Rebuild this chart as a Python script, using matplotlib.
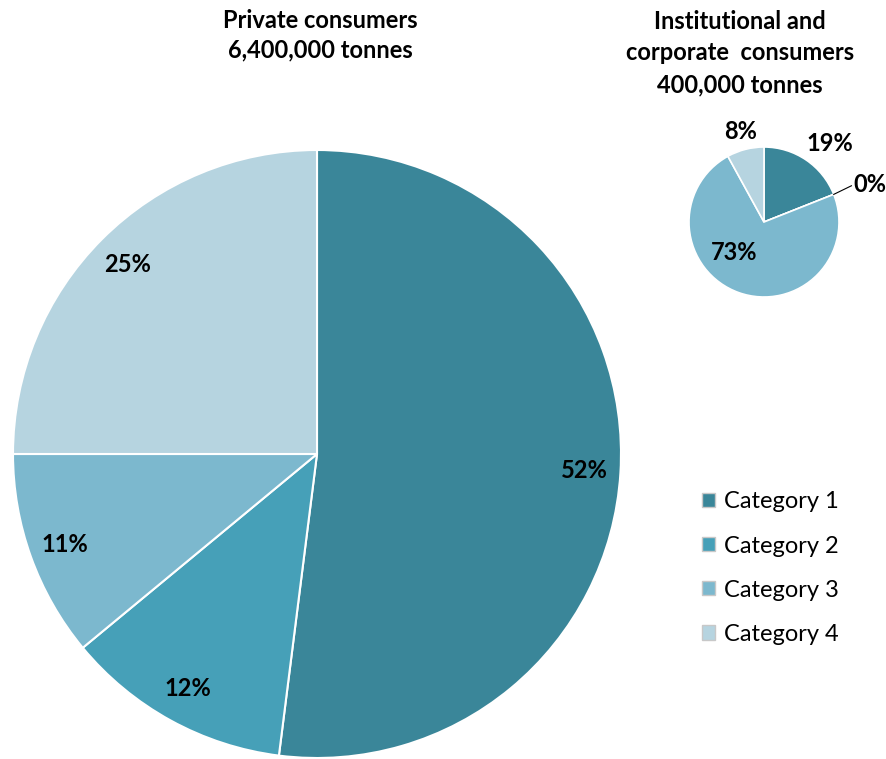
import matplotlib.pyplot as plt
import numpy as np
from matplotlib.patches import Patch

plt.rcParams['font.family'] = ['Lato', 'DejaVu Sans']

categories = ["Category 1", "Category 2", "Category 3", "Category 4"]
private_share = [52, 12, 11, 25]
institutional_share = [19, 0, 73, 8]
colors = ["#3a8699", "#46a0b8", "#7cb8ce", "#b6d4e0"]

private_title = "Private consumers\n6,400,000 tonnes"
inst_title = "Institutional and\ncorporate  consumers\n400,000 tonnes"

FS = 17

fig = plt.figure(figsize=(8.86, 7.59), dpi=100)

# big pie
ax1 = fig.add_axes([13/886, 1/759, 608/886, 608/759])
ax1.pie(private_share, colors=colors, startangle=90, counterclock=False,
        autopct="%d%%", pctdistance=0.88,
        wedgeprops=dict(edgecolor="white", linewidth=1.5),
        textprops=dict(fontsize=FS, fontweight="bold", color="black"))
ax1.set_xlim(-1, 1)
ax1.set_ylim(-1, 1)
ax1.set_aspect("equal")
fig.text(320/886, 1 - 35/759, private_title, ha="center", va="center",
         fontsize=FS, fontweight="bold", linespacing=1.35)

# small pie, labels mostly pushed outside
ax2 = fig.add_axes([689/886, 1 - 297/759, 150/886, 150/759])
wedges, _ = ax2.pie(institutional_share, colors=colors, startangle=90,
                    counterclock=False,
                    wedgeprops=dict(edgecolor="white", linewidth=1.2))
ax2.set_xlim(-1, 1)
ax2.set_ylim(-1, 1)
ax2.set_aspect("equal")
label_r = [1.37, 1.5, 0.57, 1.25]
label_shift = [-6, -2, -24, 0]
for w, v, r, s in zip(wedges, institutional_share, label_r, label_shift):
    ang = np.deg2rad((w.theta1 + w.theta2) / 2 + s)
    x, y = r * np.cos(ang), r * np.sin(ang)
    ax2.text(x, y, f"{v}%", ha="center", va="center", fontsize=FS,
             fontweight="bold", clip_on=False)
    if v == 0:
        a0 = np.deg2rad(w.theta1)
        ax2.plot([np.cos(a0), 1.2 * np.cos(a0) + 0.05], [np.sin(a0), y - 0.02],
                 color="black", lw=0.8, clip_on=False)

fig.text(740/886, 1 - 53/759, inst_title, ha="center", va="center",
         fontsize=FS, fontweight="bold", linespacing=1.45)

handles = [Patch(facecolor=c, edgecolor="#c8c8c8", label=l)
           for c, l in zip(colors, categories)]
fig.legend(handles=handles, loc="upper left", bbox_to_anchor=(693/886, 1 - 482/759),
           frameon=False, fontsize=FS, handlelength=0.55, handleheight=0.55,
           handletextpad=0.35, labelspacing=0.98, borderaxespad=0)

fig.savefig("out.png", dpi=100)
